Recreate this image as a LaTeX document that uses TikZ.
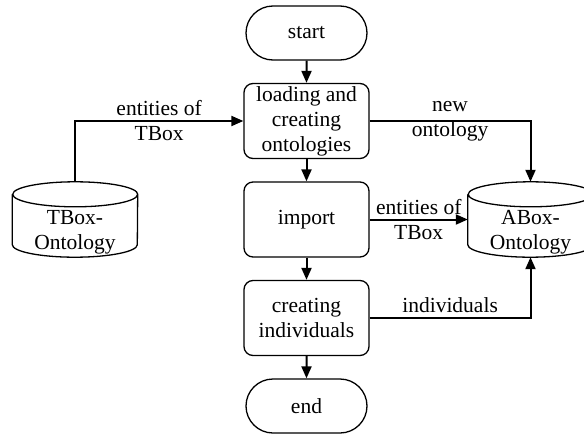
\documentclass[tikz,border=0pt]{standalone}
\usepackage{fontspec}
\setmainfont{Liberation Serif}
\usetikzlibrary{arrows.meta, positioning, shapes.misc}

\begin{document}
\begin{tikzpicture}[
        x=1pt, y=1pt,
        node distance=22.2pt,
        every node/.style={font=\fontsize{21.5}{25}\selectfont, align=center},
        terminal/.style={rounded rectangle, draw, line width=1.3pt, inner sep=2pt, minimum width=125pt, minimum height=54pt},
        process/.style={rectangle, rounded corners=9pt, draw, line width=1.3pt, inner sep=1pt, minimum width=125pt, minimum height=75pt},
        database/.style={rectangle, minimum width=125pt, minimum height=50pt, inner sep=0pt},
        flow/.style={line width=2pt, -{Triangle[length=12pt, width=10pt]}}
    ]
        \useasboundingbox (0,0) rectangle (584,-434);

        % Ablauf in der Mitte
        \node [terminal] (start) at (306.5,-33) {start};
        \node [process, below=of start] (load) {loading and\\creating\\ontologies};
        \node [process, below=of load] (import) {import};
        \node [process, below=of import] (create) {creating\\individuals};
        \node [terminal, below=of create] (end) {end};

        % Ontologien
        \node [database] (TBox) at (75,-232) {TBox-\\Ontology};
        \node [database] (ABox) at (530.5,-232) {ABox-\\Ontology};
        \foreach \db in {TBox, ABox}
            \draw [line width=1.3pt] ([yshift=12.5pt]\db.north west) -- ([yshift=12.5pt]\db.south west)
                arc[start angle=180, end angle=360, x radius=62.5pt, y radius=12.5pt]
                -- ([yshift=12.5pt]\db.north east)
                arc[start angle=0, end angle=360, x radius=62.5pt, y radius=12.5pt];

        % Pfeile
        \draw[flow] (start) -- (load);
        \draw[flow] (load) -- (import);
        \draw[flow] (import) -- (create);
        \draw[flow] (create) -- (end);
        \draw[flow] ([yshift=25pt]TBox.north) |- node[pos=0.75] (lblT) {entities of\\TBox} (load.west);
        \draw[flow] (load.east) -| node[pos=0.25] (lblN) {new\\ontology} ([yshift=25pt]ABox.north);
        \draw[flow] (import.east) -- node (lblI) {entities of\\TBox} (ABox.west |- import.east);
        \draw[flow] (create.east) -| node[pos=0.25, above, inner sep=4pt] (lblC) {individuals} (ABox.south);
    \end{tikzpicture}
\end{document}
